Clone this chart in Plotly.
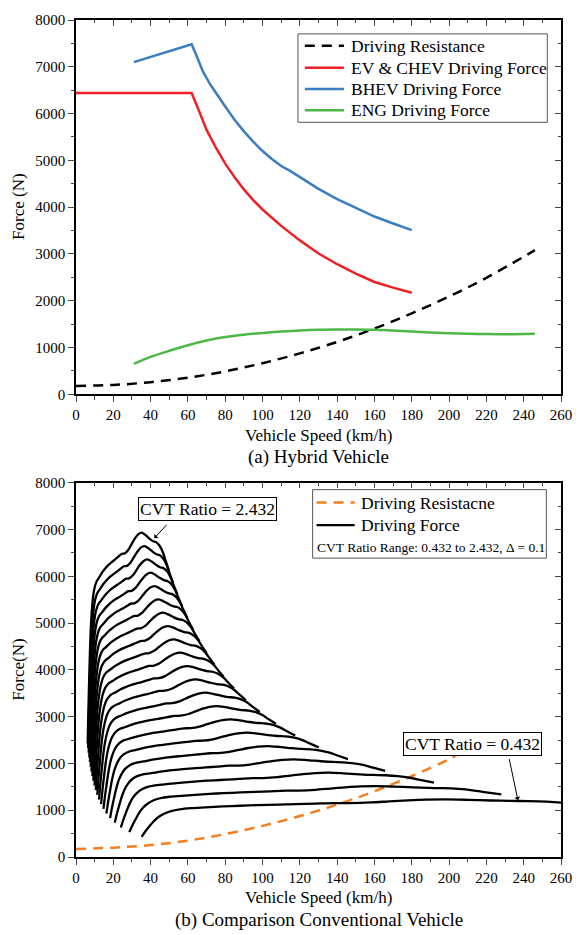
import plotly.graph_objects as go

FONT = "Liberation Serif, Times New Roman, serif"

# ---------------- (a) Hybrid Vehicle ----------------
res_v = [0, 20, 40, 60, 80, 100, 120, 140, 160, 180, 200, 220, 246]
res_f = [180, 200, 260, 355, 490, 665, 875, 1120, 1405, 1730, 2090, 2490, 3080]

ev_v = [0, 30, 60, 62, 65, 70, 75, 80, 85, 90, 95, 100, 110, 120, 130, 140, 150, 160, 170, 180]
ev_f = [6440, 6440, 6440, 6440, 6150, 5650, 5270, 4930, 4640, 4380, 4150, 3950, 3600, 3290, 3010, 2780, 2580, 2400, 2280, 2170]

bhev_v = [31, 40, 50, 62, 65, 68, 72, 76, 80, 85, 90, 95, 100, 105, 110, 115, 120, 130, 140, 150, 160, 170, 180]
bhev_f = [7100, 7210, 7330, 7480, 7200, 6900, 6620, 6380, 6150, 5870, 5620, 5400, 5200, 5030, 4880, 4770, 4640, 4390, 4170, 3980, 3800, 3650, 3510]

eng_v = [31, 40, 50, 60, 70, 80, 90, 100, 110, 120, 130, 140, 150, 160, 170, 180, 190, 200, 210, 220, 230, 240, 246]
eng_f = [650, 800, 930, 1050, 1150, 1225, 1275, 1310, 1340, 1365, 1380, 1385, 1385, 1378, 1362, 1345, 1322, 1305, 1293, 1287, 1285, 1290, 1295]

# ---------------- (b) Conventional Vehicle (CVT) ----------------
res2_v = [0, 20, 40, 60, 80, 100, 120, 140, 160, 180, 200, 204]
res2_f = [170, 200, 255, 350, 490, 665, 875, 1120, 1405, 1730, 2090, 2180]

# engine characteristic: speed x ratio (km/h) and force / ratio (N)
base_u = [15.2, 16.0, 17.0, 18.0, 19.1, 20.5, 22.0, 24.0, 26.7, 30.0, 34.0, 38.0, 42.0, 46.9, 51.0,
          55.4, 59.8, 63.5, 68.3, 72.5, 76.9, 81.0, 85.6, 90.5, 96.1, 100.5, 104.8, 109.0, 113.1, 117.0, 121.3]
base_g = [998, 1250, 1520, 1770, 1980, 2150, 2270, 2360, 2420, 2455, 2500, 2535, 2565, 2593, 2615,
          2640, 2665, 2668, 2700, 2750, 2800, 2835, 2850, 2830, 2796, 2775, 2765, 2735, 2680, 2600, 2515]
cvt_ratios = [2.432, 2.332, 2.232, 2.132, 2.032, 1.932, 1.832, 1.732, 1.632, 1.532, 1.432,
              1.332, 1.232, 1.132, 1.032, 0.932, 0.832, 0.732, 0.632, 0.532, 0.432]

x_ticks = list(range(0, 261, 20))
y_ticks = list(range(0, 8001, 1000))

RED = "#EE2226"
BLUE = "#3A7DC0"
GREEN = "#4DB848"
ORANGE = "#F57F20"

fig = go.Figure()

# top traces
fig.add_trace(go.Scatter(x=res_v, y=res_f, mode="lines", name="Driving Resistance",
                         line=dict(color="black", width=2.5, dash="10px,7px", shape="spline"),
                         xaxis="x", yaxis="y", showlegend=False))
fig.add_trace(go.Scatter(x=ev_v, y=ev_f, mode="lines", name="EV & CHEV Driving Force",
                         line=dict(color=RED, width=2.5), xaxis="x", yaxis="y", showlegend=False))
fig.add_trace(go.Scatter(x=bhev_v, y=bhev_f, mode="lines", name="BHEV Driving Force",
                         line=dict(color=BLUE, width=2.5), xaxis="x", yaxis="y", showlegend=False))
fig.add_trace(go.Scatter(x=eng_v, y=eng_f, mode="lines", name="ENG Driving Force",
                         line=dict(color=GREEN, width=2.5, shape="spline"), xaxis="x", yaxis="y",
                         showlegend=False))

# bottom traces
fig.add_trace(go.Scatter(x=res2_v, y=res2_f, mode="lines", name="Driving Resistacne",
                         line=dict(color=ORANGE, width=2.5, dash="10px,7px", shape="spline"),
                         xaxis="x2", yaxis="y2", showlegend=False))
for k, r in enumerate(cvt_ratios):
    vs = [u / r for u in base_u]
    fs = [g * r for g in base_g]
    fig.add_trace(go.Scatter(x=vs, y=fs, mode="lines", name="Driving Force",
                             line=dict(color="black", width=2.3, shape="spline", smoothing=0.8),
                             showlegend=False, xaxis="x2", yaxis="y2"))

# invisible traces for mirrored (inside) ticks
for xa, ya in (("x3", "y3"), ("x4", "y4")):
    fig.add_trace(go.Scatter(x=[None], y=[None], xaxis=xa, yaxis=ya, showlegend=False, hoverinfo="skip"))

tickfont = dict(family=FONT, size=15, color="black")

def xax(anchor):
    return dict(range=[0, 260], tickvals=x_ticks, ticks="outside", ticklen=6, tickwidth=1.3,
                showline=True, linecolor="black", linewidth=1.5, showgrid=False, zeroline=False,
                tickfont=tickfont, minor=dict(dtick=10, tick0=0, ticks="outside", ticklen=3.5, tickwidth=1.2),
                anchor=anchor)

def yax(domain, anchor):
    return dict(range=[0, 8000], tickvals=y_ticks, ticks="outside", ticklen=6, tickwidth=1.3,
                showline=True, linecolor="black", linewidth=1.5, showgrid=False, zeroline=False,
                tickfont=tickfont, minor=dict(dtick=500, tick0=0, ticks="outside", ticklen=3.5, tickwidth=1.2),
                domain=domain, anchor=anchor)

def mirror_x(over, anchor):
    return dict(overlaying=over, anchor=anchor, side="top", range=[0, 260], tickvals=x_ticks,
                ticks="inside", ticklen=6, tickwidth=1.3, showticklabels=False, showline=True,
                linecolor="black", linewidth=1.5, showgrid=False, zeroline=False,
                minor=dict(dtick=10, tick0=0, ticks="inside", ticklen=3.5, tickwidth=1.2))

def mirror_y(over, anchor):
    return dict(overlaying=over, anchor=anchor, side="right", range=[0, 8000], tickvals=y_ticks,
                ticks="inside", ticklen=6, tickwidth=1.3, showticklabels=False, showline=True,
                linecolor="black", linewidth=1.5, showgrid=False, zeroline=False,
                minor=dict(dtick=500, tick0=0, ticks="inside", ticklen=3.5, tickwidth=1.2))

top_dom = [0.5528, 1.0]
bot_dom = [0.0, 0.4472]

fig.update_layout(
    width=584, height=935,
    margin=dict(l=76, r=12, t=14, b=78),
    paper_bgcolor="white", plot_bgcolor="white",
    font=dict(family=FONT, color="black"),
    xaxis=xax("y"),
    yaxis=yax(top_dom, "x"),
    xaxis2=xax("y2"),
    yaxis2=yax(bot_dom, "x2"),
    xaxis3=mirror_x("x", "y3"),
    yaxis3=mirror_y("y", "x3"),
    xaxis4=mirror_x("x2", "y4"),
    yaxis4=mirror_y("y2", "x4"),
    showlegend=False,
)

# pixel -> paper helpers (plot area: x 76..572, y 14..857)
def px(p):
    return (p - 76) / 496.0

def py(p):
    return (857 - p) / 843.0

leg_font = dict(family=FONT, size=17.5, color="black")

# ---- top legend (manual) ----
fig.add_shape(type="rect", xref="paper", yref="paper", x0=px(303), x1=px(558), y0=py(117), y1=py(28),
              line=dict(color="#555555", width=1), fillcolor="white", layer="above")
top_items = [("Driving Resistance", "black", "10px,7px", 40),
             ("EV & CHEV Driving Force", RED, "solid", 62),
             ("BHEV Driving Force", BLUE, "solid", 83.5),
             ("ENG Driving Force", GREEN, "solid", 105)]
for name, col, dash, yy in top_items:
    fig.add_shape(type="line", xref="paper", yref="paper", x0=px(310), x1=px(350), y0=py(yy), y1=py(yy),
                  line=dict(color=col, width=2.5, dash=dash), layer="above")
    fig.add_annotation(xref="paper", yref="paper", x=px(355), y=py(yy), xanchor="left", yanchor="middle",
                       text=name, showarrow=False, font=leg_font)

# ---- bottom legend (manual) ----
fig.add_shape(type="rect", xref="paper", yref="paper", x0=px(318), x1=px(557), y0=py(556), y1=py(487),
              line=dict(color="#555555", width=1), fillcolor="rgba(0,0,0,0)", layer="above")
bot_items = [("Driving Resistacne", ORANGE, "10px,7px", 500),
             ("Driving Force", "black", "solid", 522.7)]
for name, col, dash, yy in bot_items:
    fig.add_shape(type="line", xref="paper", yref="paper", x0=px(322), x1=px(361), y0=py(yy), y1=py(yy),
                  line=dict(color=col, width=2.3 if col == "black" else 2.5, dash=dash), layer="above")
    fig.add_annotation(xref="paper", yref="paper", x=px(365), y=py(yy), xanchor="left", yanchor="middle",
                       text=name, showarrow=False, font=leg_font)
fig.add_annotation(xref="paper", yref="paper", x=px(320), y=py(545), xanchor="left", yanchor="middle",
                   text="CVT Ratio Range: 0.432 to 2.432, \u0394 = 0.1", showarrow=False,
                   font=dict(family=FONT, size=13.5, color="black"))

# titles / captions
ann_font = dict(family=FONT, size=17, color="black")
cap_font = dict(family=FONT, size=19, color="black")
fig.add_annotation(xref="paper", yref="paper", x=0.5, y=py(432), text="Vehicle Speed (km/h)",
                   showarrow=False, font=ann_font, xanchor="center", yanchor="middle")
fig.add_annotation(xref="paper", yref="paper", x=0.5, y=py(454), text="(a) Hybrid Vehicle",
                   showarrow=False, font=cap_font, xanchor="center", yanchor="middle")
fig.add_annotation(xref="paper", yref="paper", x=0.5, y=py(898), text="Vehicle Speed (km/h)",
                   showarrow=False, font=ann_font, xanchor="center", yanchor="middle")
fig.add_annotation(xref="paper", yref="paper", x=0.5, y=py(920), text="(b) Comparison Conventional Vehicle",
                   showarrow=False, font=cap_font, xanchor="center", yanchor="middle")
fig.add_annotation(xref="paper", yref="paper", x=px(17), y=py(202), text="Force (N)", textangle=-90,
                   showarrow=False, font=ann_font, xanchor="center", yanchor="middle")
fig.add_annotation(xref="paper", yref="paper", x=px(17), y=py(668), text="Force(N)", textangle=-90,
                   showarrow=False, font=ann_font, xanchor="center", yanchor="middle")

# CVT ratio callouts
box_font = dict(family=FONT, size=17.5, color="black")
fig.add_annotation(xref="x2", yref="y2", x=70.4, y=7431, text="CVT Ratio = 2.432", showarrow=False,
                   font=box_font, bordercolor="black", borderwidth=1, borderpad=1, bgcolor="white")
fig.add_annotation(xref="x2", yref="y2", x=42.0, y=6815, axref="x2", ayref="y2", ax=49.4, ay=7134,
                   text="", showarrow=True, arrowhead=1, arrowsize=1, arrowwidth=1, arrowcolor="black")
fig.add_annotation(xref="x2", yref="y2", x=212.7, y=2410, text="CVT Ratio = 0.432", showarrow=False,
                   font=box_font, bordercolor="black", borderwidth=1, borderpad=1, bgcolor="white")
fig.add_annotation(xref="x2", yref="y2", x=236.9, y=1215, axref="x2", ayref="y2", ax=232.1, ay=2123,
                   text="", showarrow=True, arrowhead=1, arrowsize=1, arrowwidth=1, arrowcolor="black")

fig.write_html("out.html")
